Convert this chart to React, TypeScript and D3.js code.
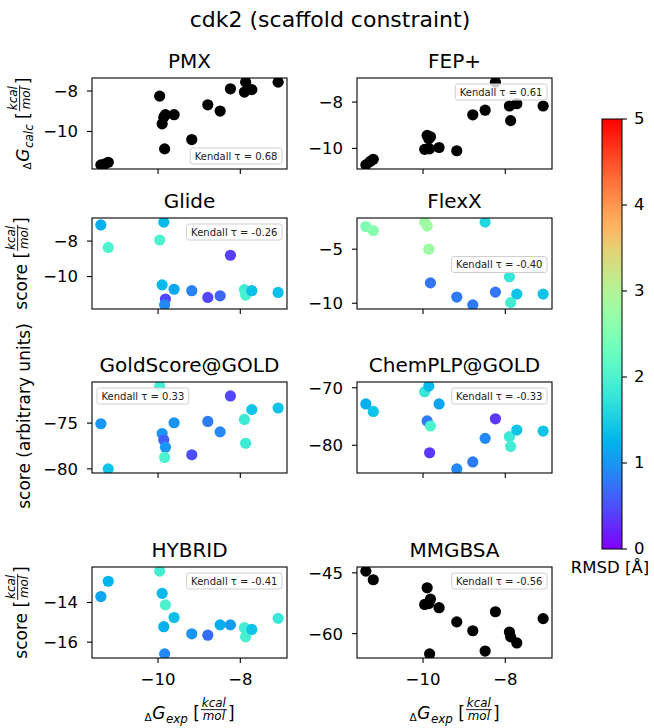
import React, { useEffect, useRef } from "react";
import * as d3 from "d3";

// experimental binding free energies (kcal/mol), one per ligand
const expDG = [-11.39, -11.29, -11.21, -9.96, -9.9, -9.86, -9.82, -9.84, -9.61, -9.18, -8.79, -8.49, -8.24, -7.9, -7.87, -7.72, -7.08];

const pmxCalc = [-11.65, -11.6, -11.52, -8.25, -9.62, -9.29, -9.17, -10.86, -9.17, -10.4, -8.68, -8.99, -7.89, -8.05, -7.56, -7.93, -7.56];
const fepCalc = [-10.71, -10.57, -10.47, -10.04, -9.44, -9.58, -9.5, -10.02, -9.96, -10.1, -8.55, -8.35, -7.14, -8.17, -8.8, -8.07, -8.17];

const glideScore = [-7.09, null, -8.36, -7.94, -10.47, -6.93, -11.27, -11.6, -10.72, -10.8, -11.18, -11.09, -8.8, -10.74, -11.05, -10.8, -10.9];
const glideRmsd = [1.2, null, 2.0, 2.0, 1.3, 1.3, 0.45, 0.9, 1.15, 0.85, 0.45, 0.65, 0.4, 1.9, 1.95, 1.35, 1.35];

const flexxScore = [-2.91, null, -3.28, -2.5, -2.87, -5.0, -8.12, null, null, -9.43, -10.15, -2.5, -8.97, -7.56, -9.94, -9.16, -9.16];
const flexxRmsd = [2.5, null, 2.6, 2.8, 2.8, 2.8, 0.75, null, null, 0.8, 0.8, 1.6, 0.75, 1.8, 1.9, 1.4, 1.4];

const goldScore = [-75.07, null, -80.0, -70.96, -76.14, -76.85, -77.64, -78.75, -74.96, -78.46, -74.82, -75.96, -72.03, -74.6, -77.2, -73.53, -73.35];
const goldRmsd = [1.0, null, 1.4, 1.9, 1.0, 0.6, 1.0, 2.0, 1.0, 0.5, 0.8, 0.9, 0.45, 1.85, 1.85, 1.4, 1.4];

const chemplpScore = [-72.82, null, -74.12, -70.7, -75.77, -69.72, -76.65, -81.3, -72.82, -84.1, -82.9, -78.8, -75.4, -78.5, -80.2, -77.35, -77.53];
const chemplpRmsd = [1.2, null, 1.4, 1.8, 0.8, 1.3, 2.0, 0.35, 1.1, 0.9, 0.8, 0.9, 0.35, 1.85, 1.9, 1.4, 1.4];

const hybridScore = [-13.7, null, -12.93, -12.42, -13.54, -15.22, -14.12, -16.59, -14.76, -15.58, -15.65, -15.13, -15.13, -15.27, -15.73, -15.36, -14.8];
const hybridRmsd = [1.1, null, 1.25, 1.9, 1.3, 1.2, 2.0, 0.9, 1.35, 1.0, 0.7, 1.2, 1.05, 1.9, 1.95, 1.4, 1.8];

const mmgbsaScore = [-44.58, null, -46.7, -52.8, -48.7, -52.6, -51.5, -65.0, -53.6, -57.1, -59.3, -64.3, -54.6, -59.6, -60.8, -62.3, -56.3];

const panelTitles = ["PMX", "FEP+", "Glide", "FlexX", "GoldScore@GOLD", "ChemPLP@GOLD", "HYBRID", "MMGBSA"];
const kendallTau = ["0.68", "0.61", "-0.26", "-0.40", "0.33", "-0.33", "-0.41", "-0.56"];
const xTicks = [-10, -8];
const yTicksList = [[-10, -8], [-10, -8], [-10, -8], [-10, -5], [-80, -75], [-80, -70], [-16, -14], [-60, -45]];
const cbTicks = [0, 1, 2, 3, 4, 5];
const rmsdMax = 5;

function rainbow(t: number) {
  t = Math.max(0, Math.min(1, t));
  const r = Math.min(1, Math.abs(2 * t - 0.5));
  const g = Math.sin(Math.PI * t);
  const b = Math.cos((Math.PI * t) / 2);
  return d3.rgb(r * 255, g * 255, b * 255).formatHex();
}

export default function App() {
  const ref = useRef<SVGSVGElement>(null);
  useEffect(() => {
    const svg = d3.select(ref.current);
    svg.selectAll("*").remove();
    const FONT = "DejaVu Sans";
    const colX = [92, 357];
    const rowY = [78, 218, 382, 567];
    const axW = 195;
    const axH = 91;
    const tickFS = 16.5;

    const ys = [pmxCalc, fepCalc, glideScore, flexxScore, goldScore, chemplpScore, hybridScore, mmgbsaScore];
    const cs = [null, null, glideRmsd, flexxRmsd, goldRmsd, chemplpRmsd, hybridRmsd, null];
    const locs = ["lower right", "upper right", "upper right", "center right", "upper left", "upper right", "upper right", "upper right"];

    const xe = d3.extent(expDG) as [number, number];
    const xp = (xe[1] - xe[0]) * 0.05;
    const defs = svg.append("defs");

    // suptitle
    svg.append("text").attr("x", 330).attr("y", 27).attr("text-anchor", "middle")
      .attr("font-size", 22).attr("font-family", FONT).text("cdk2 (scaffold constraint)");

    ys.forEach((yv, i) => {
      const col = i % 2, row = Math.floor(i / 2);
      const x0 = colX[col], y0 = rowY[row];
      const x = d3.scaleLinear().domain([xe[0] - xp, xe[1] + xp]).range([x0, x0 + axW]);
      const vals = (yv as (number | null)[]).filter((v) => v != null) as number[];
      const ye = d3.extent(vals) as [number, number];
      const yp = (ye[1] - ye[0]) * 0.05;
      const y = d3.scaleLinear().domain([ye[0] - yp, ye[1] + yp]).range([y0 + axH, y0]);
      const g = svg.append("g");
      const clipId = "clip" + i;
      defs.append("clipPath").attr("id", clipId).append("rect")
        .attr("x", x0).attr("y", y0).attr("width", axW).attr("height", axH);

      const pts = expDG.map((xv, k) => ({ x: xv, y: (yv as any)[k], c: cs[i] ? (cs[i] as any)[k] : null }))
        .filter((d) => d.y != null);
      g.append("g").attr("clip-path", `url(#${clipId})`).selectAll("circle").data(pts).join("circle")
        .attr("cx", (d) => x(d.x)).attr("cy", (d) => y(d.y))
        .attr("r", 5.6)
        .attr("fill", (d) => (d.c == null ? "#000" : rainbow(d.c / rmsdMax)));

      // frame
      g.append("rect").attr("x", x0).attr("y", y0).attr("width", axW).attr("height", axH)
        .attr("fill", "none").attr("stroke", "#000").attr("stroke-width", 1.1);

      // x ticks
      xTicks.forEach((t) => {
        g.append("line").attr("x1", x(t)).attr("x2", x(t)).attr("y1", y0 + axH).attr("y2", y0 + axH + 5)
          .attr("stroke", "#000").attr("stroke-width", 1.1);
        if (row === 3) {
          g.append("text").attr("x", x(t)).attr("y", y0 + axH + 27).attr("text-anchor", "middle")
            .attr("font-size", tickFS).attr("font-family", FONT).text(d3.format("d")(t));
        }
      });
      // y ticks
      yTicksList[i].forEach((t) => {
        g.append("line").attr("x1", x0 - 5).attr("x2", x0).attr("y1", y(t)).attr("y2", y(t))
          .attr("stroke", "#000").attr("stroke-width", 1.1);
        g.append("text").attr("x", x0 - 14).attr("y", y(t)).attr("dy", "0.36em").attr("text-anchor", "end")
          .attr("font-size", tickFS).attr("font-family", FONT).text(d3.format("d")(t));
      });

      // title
      g.append("text").attr("x", x0 + axW / 2).attr("y", y0 - 10).attr("text-anchor", "middle")
        .attr("font-size", 20).attr("font-family", FONT).text(panelTitles[i]);

      // legend
      const lg = g.append("g");
      const lt = lg.append("text").attr("font-size", 10).attr("font-family", FONT).attr("fill", "#222")
        .text(`Kendall τ = ${kendallTau[i]}`);
      const tw = (lt.node() as SVGTextElement).getComputedTextLength();
      const bw = tw + 9, bh = 16;
      const loc = locs[i];
      const bx = loc.endsWith("left") ? x0 + 5 : x0 + axW - 5 - bw;
      const by = loc.startsWith("upper") ? y0 + 6 : loc.startsWith("lower") ? y0 + axH - 5 - bh : y0 + axH / 2 - bh / 2 + 1;
      lg.insert("rect", "text").attr("x", bx).attr("y", by).attr("width", bw).attr("height", bh)
        .attr("rx", 2.5).attr("fill", "#fff").attr("fill-opacity", 0.8).attr("stroke", "#cfcfcf").attr("stroke-width", 1);
      lt.attr("x", bx + 4.5).attr("y", by + 11.5);
    });

    // math-ish labels
    function mathLabel(parent: any, prefix: string | null, sub: string | null, F: number) {
      const g = parent.append("g").attr("font-family", FONT);
      let cx = 0;
      const add = (txt: string, size: number, italic: boolean, dy: number) => {
        const t = g.append("text").attr("x", cx).attr("y", dy).attr("font-size", size)
          .attr("font-style", italic ? "italic" : "normal").text(txt);
        cx += (t.node() as SVGTextElement).getComputedTextLength();
        return t;
      };
      if (prefix) {
        add(prefix, F, false, 0);
      } else {
        add("Δ", F * 0.62, false, F * 0.12);
        cx += 0.5;
        add("G", F, true, 0);
        cx += 0.5;
        add(sub as string, F * 0.7, true, F * 0.24);
      }
      cx += F * 0.32;
      add("[", F, false, 0);
      cx += 1;
      const fs = F * 0.7;
      const axisY = -F * 0.55;
      const num = g.append("text").attr("font-size", fs).attr("font-style", "italic").attr("text-anchor", "middle").text("kcal");
      const den = g.append("text").attr("font-size", fs).attr("font-style", "italic").attr("text-anchor", "middle").text("mol");
      const wn = (num.node() as SVGTextElement).getComputedTextLength();
      const wd = (den.node() as SVGTextElement).getComputedTextLength();
      const fw = Math.max(wn, wd) + 2;
      num.attr("x", cx + fw / 2).attr("y", axisY - 2.5);
      den.attr("x", cx + fw / 2).attr("y", axisY + 2 + fs * 0.74);
      g.append("line").attr("x1", cx).attr("x2", cx + fw).attr("y1", axisY).attr("y2", axisY)
        .attr("stroke", "#000").attr("stroke-width", 0.9);
      cx += fw + 1;
      add("]", F, false, 0);
      return { g, w: cx };
    }

    const F = 17;
    // x labels
    [0, 1].forEach((col) => {
      const m = mathLabel(svg, null, "exp", F);
      m.g.attr("transform", `translate(${colX[col] + axW / 2 - m.w / 2},719)`);
    });
    // y labels
    const yl1 = mathLabel(svg, null, "calc", F);
    yl1.g.attr("transform", `translate(29,${rowY[0] + axH / 2}) rotate(-90) translate(${-yl1.w / 2},0)`);
    const yl2 = mathLabel(svg, "score", null, F);
    yl2.g.attr("transform", `translate(27,${rowY[1] + axH / 2}) rotate(-90) translate(${-yl2.w / 2},0)`);
    const yl4 = mathLabel(svg, "score", null, F);
    yl4.g.attr("transform", `translate(27,${rowY[3] + axH / 2}) rotate(-90) translate(${-yl4.w / 2},0)`);
    svg.append("text").attr("transform", "translate(30,416) rotate(-90)").attr("text-anchor", "middle")
      .attr("font-size", F).attr("font-family", FONT).text("score (arbitrary units)");

    // colorbar
    const cbx = 602, cby = 119, cbw = 20, cbh = 430;
    const grad = defs.append("linearGradient").attr("id", "cbgrad").attr("x1", 0).attr("x2", 0).attr("y1", 1).attr("y2", 0);
    d3.range(0, 1.0001, 0.05).forEach((t) => {
      grad.append("stop").attr("offset", t).attr("stop-color", rainbow(t));
    });
    svg.append("rect").attr("x", cbx).attr("y", cby).attr("width", cbw).attr("height", cbh)
      .attr("fill", "url(#cbgrad)").attr("stroke", "#000").attr("stroke-width", 1);
    const cs0 = d3.scaleLinear().domain([0, rmsdMax]).range([cby + cbh, cby]);
    cbTicks.forEach((t) => {
      svg.append("line").attr("x1", cbx + cbw).attr("x2", cbx + cbw + 5).attr("y1", cs0(t)).attr("y2", cs0(t))
        .attr("stroke", "#000").attr("stroke-width", 1.1);
      svg.append("text").attr("x", cbx + cbw + 12).attr("y", cs0(t)).attr("dy", "0.33em")
        .attr("font-size", tickFS).attr("font-family", FONT).text(String(t));
    });
    svg.append("text").attr("x", 610).attr("y", 573).attr("text-anchor", "middle")
      .attr("font-size", 16.5).attr("font-family", FONT).text("RMSD [Å]");
  }, []);
  return (
    <svg ref={ref} width={654} height={728}
      style={{ position: "absolute", left: 0, top: 0, background: "#fff" }} />
  );
}
